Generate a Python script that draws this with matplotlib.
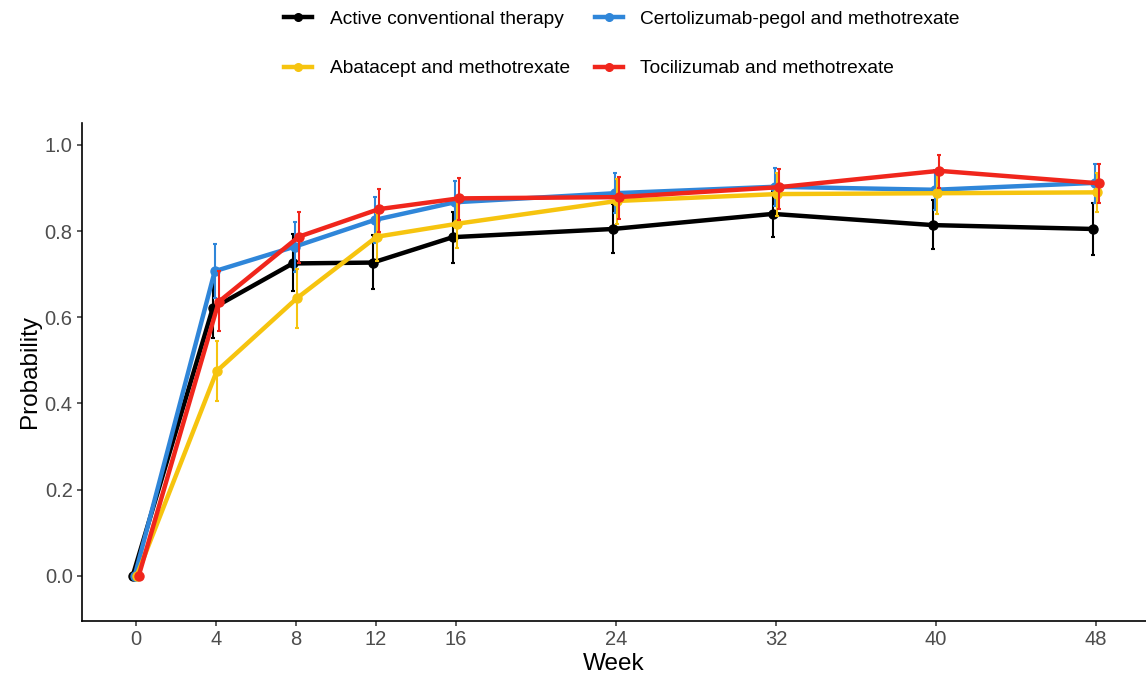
import numpy as np
import matplotlib
matplotlib.use("Agg")
import matplotlib.pyplot as plt
from matplotlib.lines import Line2D

plt.rcParams["font.family"] = ["Liberation Sans", "DejaVu Sans"]

weeks = np.array([0, 4, 8, 12, 16, 24, 32, 40, 48])

# Active conventional therapy
act_p = [0.0, 0.621, 0.725, 0.727, 0.786, 0.805, 0.840, 0.814, 0.805]
act_lo = [0.0, 0.551, 0.661, 0.665, 0.725, 0.750, 0.787, 0.759, 0.745]
act_hi = [0.0, 0.690, 0.793, 0.791, 0.845, 0.863, 0.894, 0.872, 0.866]

# Certolizumab-pegol and methotrexate
cer_p = [0.0, 0.707, 0.764, 0.826, 0.867, 0.888, 0.903, 0.896, 0.912]
cer_lo = [0.0, 0.645, 0.706, 0.772, 0.818, 0.842, 0.859, 0.849, 0.865]
cer_hi = [0.0, 0.769, 0.822, 0.880, 0.916, 0.934, 0.947, 0.942, 0.956]

# Abatacept and methotrexate
aba_p = [0.0, 0.475, 0.644, 0.787, 0.817, 0.870, 0.886, 0.888, 0.890]
aba_lo = [0.0, 0.406, 0.576, 0.730, 0.762, 0.817, 0.835, 0.840, 0.845]
aba_hi = [0.0, 0.545, 0.712, 0.842, 0.870, 0.920, 0.935, 0.935, 0.935]

# Tocilizumab and methotrexate
toc_p = [0.0, 0.636, 0.787, 0.851, 0.876, 0.879, 0.902, 0.940, 0.911]
toc_lo = [0.0, 0.568, 0.725, 0.799, 0.826, 0.828, 0.851, 0.900, 0.865]
toc_hi = [0.0, 0.707, 0.845, 0.898, 0.924, 0.926, 0.944, 0.977, 0.956]

series = [
    ("Active conventional therapy", "#000000", act_p, act_lo, act_hi, -0.15),
    ("Certolizumab-pegol and methotrexate", "#2f86d9", cer_p, cer_lo, cer_hi, -0.05),
    ("Abatacept and methotrexate", "#f6c40f", aba_p, aba_lo, aba_hi, 0.05),
    ("Tocilizumab and methotrexate", "#f0261c", toc_p, toc_lo, toc_hi, 0.15),
]
draw_order = [0, 2, 1, 3]

W, H = 1146, 679
fig = plt.figure(figsize=(W / 100, H / 100), dpi=100)
ax = fig.add_axes([81.7 / W, 1 - 621 / H, 1 - 81.7 / W, (621 - 123) / H])

for i in draw_order:
    name, col, p, lo, hi, off = series[i]
    x = weeks + off
    p = np.array(p)
    err = [p - np.array(lo), np.array(hi) - p]
    ax.plot(x, p, color=col, lw=3.2, solid_capstyle="butt", zorder=2 + i)
    ax.errorbar(x, p, yerr=err, fmt="none", ecolor=col, elinewidth=1.5,
                capsize=1.6, capthick=1.5, zorder=2 + i)
    ax.plot(x, p, "o", color=col, ms=6.5, zorder=2 + i)

ax.set_xlim(-2.7, 50.5)
ax.set_ylim(-0.105, 1.051)
ax.set_xticks(weeks)
ax.set_yticks([0.0, 0.2, 0.4, 0.6, 0.8, 1.0])
ax.set_yticklabels(["0.0", "0.2", "0.4", "0.6", "0.8", "1.0"])
for s in ["top", "right"]:
    ax.spines[s].set_visible(False)
for s in ["left", "bottom"]:
    ax.spines[s].set_linewidth(1.2)
ax.tick_params(axis="both", colors="#333333", labelcolor="#4d4d4d",
               labelsize=14.5, length=3.5, width=1.1, pad=3)
ax.set_xlabel("Week", fontsize=17.5, labelpad=3)
ax.set_ylabel("Probability", fontsize=17.5, labelpad=3)

handles = []
for name, col, *_ in series:
    handles.append(Line2D([], [], color=col, lw=3.2, marker="o", ms=5.5))
order = [0, 2, 1, 3]
fig.legend([handles[k] for k in order], [series[k][0] for k in order],
           ncol=2, loc="center", bbox_to_anchor=(622 / W, 1 - 44 / H),
           frameon=False, fontsize=13.8, handlelength=1.46,
           handletextpad=0.9, columnspacing=1.3, labelspacing=1.65)

fig.savefig("out.png", dpi=100)
